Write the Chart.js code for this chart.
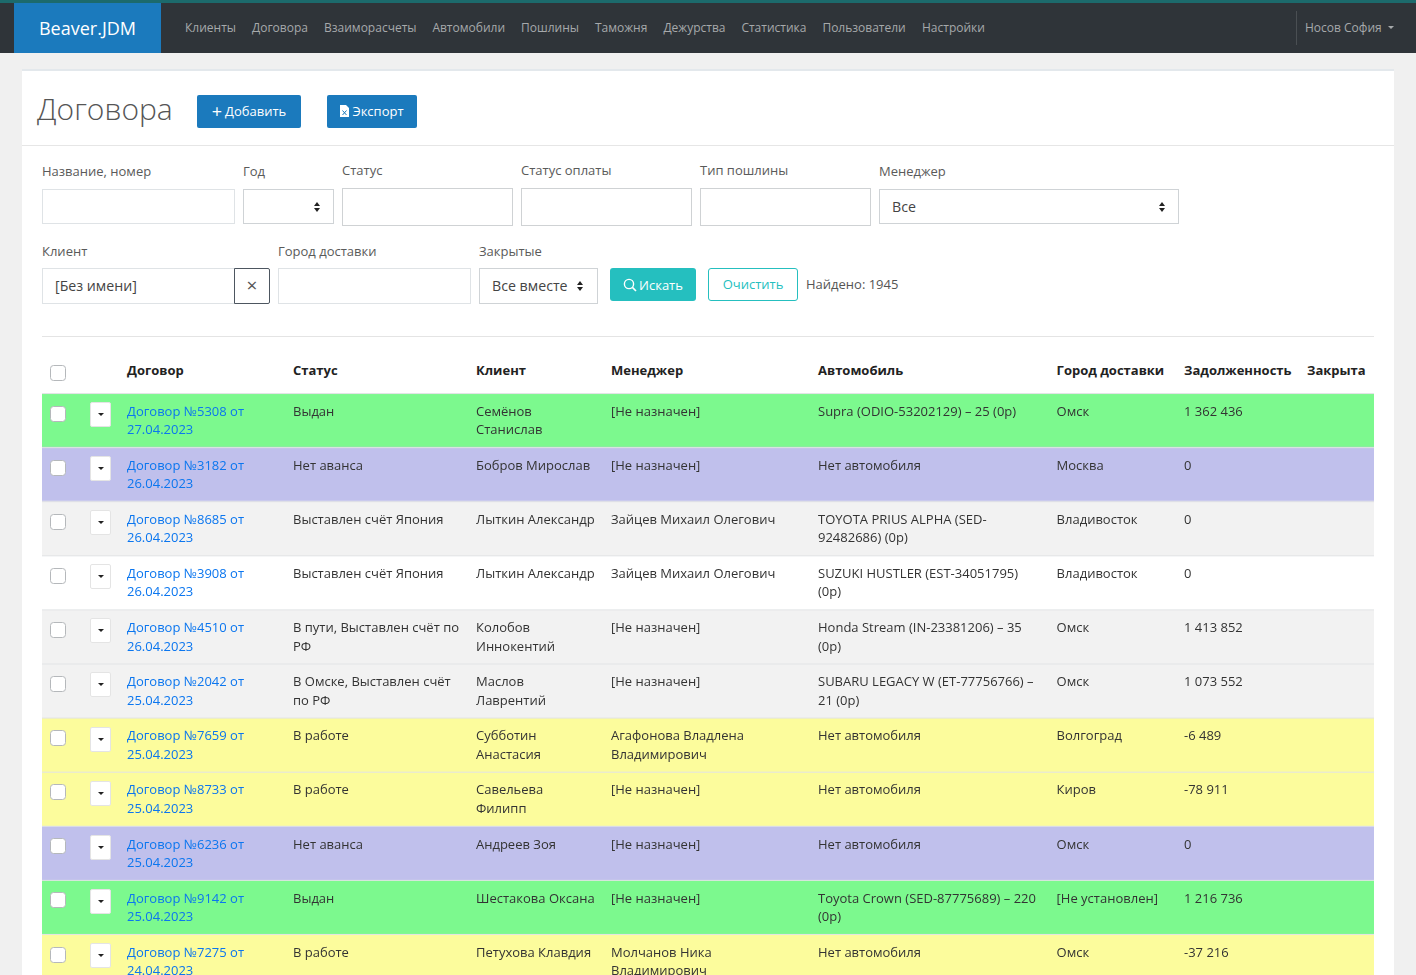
<!DOCTYPE html>
<html lang="ru"><head><meta charset="utf-8"><title>Договора</title>
<script src="https://cdn.jsdelivr.net/npm/chart.js@4"></script>
<style>
html,body{margin:0;padding:0;width:1416px;height:975px;overflow:hidden;background:#f0f0f0;font-family:"Open Sans",sans-serif;color:#333;font-size:13px}
.a{position:absolute;white-space:nowrap;box-sizing:border-box}
.lab{color:#5a5a5a;font-size:13px;line-height:18px}
.inp{background:#fff;border:1px solid #dfe3e6}
.inp2{background:#fff;border:1.5px solid #cfd2d4;}
.sel{background:#fff;border:1px solid #cfd3d6;font-size:14.2px;color:#444;display:flex;align-items:center;padding-left:12px}
.arr{position:absolute;top:50%;margin-top:-5px;width:0;height:0}
.arr:before,.arr:after{content:"";position:absolute;left:0;border-left:3.5px solid transparent;border-right:3.5px solid transparent}
.arr:before{top:0;border-bottom:4px solid #222}
.arr:after{top:6px;border-top:4px solid #222}
.nav{color:#a6a9ab;font-size:12px;top:19px;line-height:18px}
.btn{background:#1b7abd;color:#fff;border-radius:2px;display:flex;align-items:center;justify-content:center;font-size:13px;font-weight:500}
#chartWrap{position:absolute;left:42px;top:393px;width:1332px;height:594.9px}
#rows{position:absolute;left:42px;top:393px;width:1332px}
.row{position:relative;height:54.1px}
.c{position:absolute;top:8.75px;line-height:18.4px;white-space:pre-line;font-size:13px;color:#333}
.c a{color:#0b76ef;text-decoration:none}
.cb{position:absolute;width:16px;height:16px;background:#fff;border:1px solid #b5b8bb;border-radius:3.5px;box-sizing:border-box}
.dd{position:absolute;left:48px;top:9px;width:21px;height:25px;background:#fff;border:1px solid #e4e4e4;border-radius:2px;box-sizing:border-box}
.dd:after{content:"";position:absolute;left:6.5px;top:10px;border-left:3px solid transparent;border-right:3px solid transparent;border-top:3.5px solid #222}
.h{position:absolute;top:361px;font-weight:700;font-size:13px;line-height:18px;color:#222}
</style></head><body>
<div class="a" style="left:0;top:0;width:1416px;height:53px;background:#2f3439"></div>
<div class="a" style="left:0;top:0;width:1416px;height:2.5px;background:#1c6a6c"></div>
<div class="a" style="left:14px;top:3px;width:147px;height:50px;background:#1b7abd;color:#fff;font-size:18px;line-height:50px;text-align:center;">Beaver.JDM</div>
<div id="navHost"></div>
<div class="a" style="left:1296px;top:11px;width:1px;height:34px;background:#4a4f53"></div>
<div class="a nav" style="left:1305px">Носов София</div>
<div class="a" style="left:1388px;top:26px;border-left:3px solid transparent;border-right:3px solid transparent;border-top:3px solid #a6a9ab"></div>

<div class="a" style="left:22px;top:69px;width:1372px;height:920px;background:#fff;border-top:2px solid #e3e8ec"></div>
<div class="a" style="left:22px;top:145px;width:1372px;height:1px;background:#e6e6e6"></div>
<div class="a" style="left:37px;top:88px;font-size:30px;font-weight:300;line-height:42px;color:#555">Договора</div>
<div class="a btn" style="left:197px;top:95px;width:104px;height:33px;padding-bottom:1px"><span style="font-size:18px;font-weight:400;margin-right:3px;line-height:18px">+</span>Добавить</div>
<div class="a btn" style="left:327px;top:95px;width:90px;height:33px;padding-bottom:1px"><svg width="9" height="12" viewBox="0 0 9 12" style="margin-right:3px"><path d="M0 0h6l3 3v9H0z" fill="#fff"/><path d="M2.5 5.5l4 4.5M6.5 5.5l-4 4.5" stroke="#1b7abd" stroke-width="1"/></svg>Экспорт</div>

<div class="a lab" style="left:42px;top:162px">Название, номер</div>
<div class="a lab" style="left:243px;top:162px">Год</div>
<div class="a lab" style="left:342px;top:161px">Статус</div>
<div class="a lab" style="left:521px;top:161px">Статус оплаты</div>
<div class="a lab" style="left:700px;top:161px">Тип пошлины</div>
<div class="a lab" style="left:879px;top:162px">Менеджер</div>
<div class="a inp" style="left:42px;top:189px;width:193px;height:35px"></div>
<div class="a sel" style="left:243px;top:189px;width:91px;height:35px"><i class="arr" style="left:70px"></i></div>
<div class="a inp2" style="left:342px;top:188px;width:171px;height:38px"></div>
<div class="a inp2" style="left:521px;top:188px;width:171px;height:38px"></div>
<div class="a inp2" style="left:700px;top:188px;width:171px;height:38px"></div>
<div class="a sel" style="left:879px;top:189px;width:300px;height:35px">Все<i class="arr" style="left:279px"></i></div>

<div class="a lab" style="left:42px;top:242px">Клиент</div>
<div class="a lab" style="left:278px;top:242px">Город доставки</div>
<div class="a lab" style="left:479px;top:242px">Закрытые</div>
<div class="a sel" style="left:42px;top:268px;width:193px;height:36px;border-color:#dfe3e6;padding-bottom:2px">[Без имени]</div>
<div class="a" style="left:234px;top:268px;width:36px;height:36px;background:#fff;border:1px solid #4d5660;border-radius:0 2px 2px 0;text-align:center;line-height:32px;font-size:19px;color:#555">×</div>
<div class="a inp" style="left:278px;top:268px;width:193px;height:36px"></div>
<div class="a sel" style="left:479px;top:268px;width:119px;height:36px;padding-bottom:2px">Все вместе<i class="arr" style="left:97px"></i></div>
<div class="a btn" style="left:610px;top:268px;width:86px;height:33px;background:#25bfbf;border-radius:3px"><svg width="14" height="14" viewBox="0 0 14 14" style="margin-right:2px"><circle cx="6" cy="6" r="4.6" fill="none" stroke="#fff" stroke-width="1.4"/><path d="M9.4 9.4L13 13" stroke="#fff" stroke-width="1.6"/></svg>Искать</div>
<div class="a" style="left:708px;top:268px;width:90px;height:33px;background:#fff;border:1px solid #25bfbf;border-radius:3px;color:#25bfbf;text-align:center;line-height:31px;font-size:13px;font-weight:400">Очистить</div>
<div class="a" style="left:806px;top:275px;line-height:18px;font-size:13px;color:#555">Найдено: 1945</div>
<div class="a" style="left:42px;top:336px;width:1332px;height:1px;background:#e4e4e4"></div>

<div class="cb" style="left:50px;top:365px;position:absolute"></div>
<div id="headHost"></div>
<div id="chartWrap"><canvas id="rowsChart"></canvas></div>
<div id="rows"></div>

<script>
const navItems = ["Клиенты","Договора","Взаиморасчеты","Автомобили","Пошлины","Таможня","Дежурства","Статистика","Пользователи","Настройки"];
const navLefts = [185,252,324,432.4,521,595,663.4,741.4,822.4,922];
const headers = ["Договор","Статус","Клиент","Менеджер","Автомобиль","Город доставки","Задолженность","Закрыта"];
const headLefts = [127,293,476,611,818,1056.6,1184,1307];

const contractIds = ["5308","3182","8685","3908","4510","2042","7659","8733","6236","9142","7275"];
const contractDates = ["27.04.2023","26.04.2023","26.04.2023","26.04.2023","26.04.2023","25.04.2023","25.04.2023","25.04.2023","25.04.2023","25.04.2023","24.04.2023"];
const statuses = ["Выдан","Нет аванса","Выставлен счёт Япония","Выставлен счёт Япония","В пути, Выставлен счёт по\nРФ","В Омске, Выставлен счёт\nпо РФ","В работе","В работе","Нет аванса","Выдан","В работе"];
const clients = ["Семёнов\nСтанислав","Бобров Мирослав","Лыткин Александр","Лыткин Александр","Колобов\nИннокентий","Маслов\nЛаврентий","Субботин\nАнастасия","Савельева\nФилипп","Андреев Зоя","Шестакова Оксана","Петухова Клавдия"];
const managers = ["[Не назначен]","[Не назначен]","Зайцев Михаил Олегович","Зайцев Михаил Олегович","[Не назначен]","[Не назначен]","Агафонова Владлена\nВладимирович","[Не назначен]","[Не назначен]","[Не назначен]","Молчанов Ника\nВладимирович"];
const cars = ["Supra (ODIO-53202129) – 25 (0р)","Нет автомобиля","TOYOTA PRIUS ALPHA (SED-\n92482686) (0р)","SUZUKI HUSTLER (EST-34051795)\n(0р)","Honda Stream (IN-23381206) – 35\n(0р)","SUBARU LEGACY W (ET-77756766) –\n21 (0р)","Нет автомобиля","Нет автомобиля","Нет автомобиля","Toyota Crown (SED-87775689) – 220\n(0р)","Нет автомобиля"];
const cities = ["Омск","Москва","Владивосток","Владивосток","Омск","Омск","Волгоград","Киров","Омск","[Не установлен]","Омск"];
const debts = ["1 362 436","0","0","0","1 413 852","1 073 552","-6 489","-78 911","0","1 216 736","-37 216"];
const rowKinds = ["issued","noAdvance","plain","white","plain","plain","work","work","noAdvance","issued","work"];
const rowBand = [1,1,1,1,1,1,1,1,1,1,1];

const kindColors = {issued:"#7cf98e",noAdvance:"#c0c0ec",plain:"#f2f2f2",white:"#ffffff",work:"#fcfc9c"};
const colLefts = [85,251,434,569,776,1014.6,1142];

navItems.forEach((t,i)=>{const d=document.createElement("div");d.className="a nav";d.style.left=navLefts[i]+"px";d.textContent=t;navHost.appendChild(d);});
headers.forEach((t,i)=>{const d=document.createElement("div");d.className="h";d.style.left=headLefts[i]+"px";d.textContent=t;headHost.appendChild(d);});

contractIds.forEach((id,i)=>{
  const r=document.createElement("div");r.className="row";
  const cb=document.createElement("div");cb.className="cb";cb.style.left="8px";cb.style.top="12.6px";r.appendChild(cb);
  const dd=document.createElement("div");dd.className="dd";r.appendChild(dd);
  const cols=[null,statuses[i],clients[i],managers[i],cars[i],cities[i],debts[i]];
  const c0=document.createElement("div");c0.className="c";c0.style.left=colLefts[0]+"px";
  const a=document.createElement("a");a.textContent="Договор №"+id+" от\n"+contractDates[i];c0.appendChild(a);r.appendChild(c0);
  cols.forEach((t,j)=>{if(t===null)return;const c=document.createElement("div");c.className="c";c.style.left=colLefts[j]+"px";c.textContent=t;r.appendChild(c);});
  rows.appendChild(r);
});

new Chart(document.getElementById("rowsChart"),{
  type:"bar",
  data:{labels:contractIds,datasets:[{data:rowBand,backgroundColor:rowKinds.map(k=>kindColors[k]),barPercentage:1,categoryPercentage:1,borderWidth:0}]},
  options:{indexAxis:"y",responsive:true,maintainAspectRatio:false,animation:false,layout:{padding:0},
    plugins:{legend:{display:false},tooltip:{enabled:false}},
    scales:{
      x:{display:false,min:0,max:1},
      y:{display:true,border:{display:false},ticks:{display:false},grid:{color:"#e2e4e6",lineWidth:1,drawTicks:false,z:1}}
    }}
});
</script>
</body></html>
